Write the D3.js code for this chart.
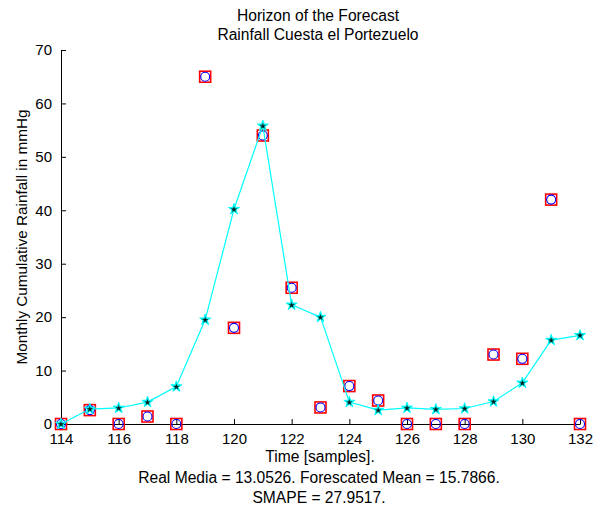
<!DOCTYPE html>
<html>
<head>
<meta charset="utf-8">
<script src="https://cdn.jsdelivr.net/npm/d3@7"></script>
<style>
  html, body { margin: 0; padding: 0; background: #fff; }
  svg { display: block; font-family: "Liberation Sans", Arial, sans-serif; }
</style>
</head>
<body>
<svg id="chart" width="604" height="507"></svg>
<script>
// Time samples on the forecast horizon
const samples = [114, 115, 116, 117, 118, 119, 120, 121, 122, 123, 124, 125, 126, 127, 128, 129, 130, 131, 132];
// Observed monthly rainfall
const observed = [0, 2.6, 0, 1.4, 0, 65, 18, 54, 25.5, 3.1, 7.1, 4.4, 0, 0, 0, 13, 12.2, 42, 0];
// Forecasted monthly rainfall
const forecast = [0, 2.8, 3.0, 4.1, 7.0, 19.5, 40.2, 55.8, 22.3, 20.0, 4.1, 2.6, 3.0, 2.75, 2.9, 4.2, 7.7, 15.7, 16.6];

const xTicks = [114, 116, 118, 120, 122, 124, 126, 128, 130, 132];
const yTicks = [0, 10, 20, 30, 40, 50, 60, 70];

const titleLines = ["Horizon of the Forecast", "Rainfall Cuesta el Portezuelo"];
const xLabel = "Time [samples].";
const yLabel = "Monthly Cumulative Rainfall in mmHg";
const footLines = ["Real Media = 13.0526. Forescated Mean = 15.7866.", "SMAPE = 27.9517."];

const svg = d3.select("#chart");
const plot = { left: 61, right: 580, top: 50, bottom: 424 };

const x = d3.scaleLinear().domain([114, 132]).range([plot.left, plot.right]);
const y = d3.scaleLinear().domain([0, 70]).range([plot.bottom, plot.top]);

// Axes (ticks point inward)
const xAxis = d3.axisBottom(x).tickValues(xTicks).tickSizeInner(-5).tickSizeOuter(0).tickPadding(9).tickFormat(d3.format("d"));
const yAxis = d3.axisLeft(y).tickValues(yTicks).tickSizeInner(-5).tickSizeOuter(0).tickPadding(9).tickFormat(d3.format("d"));

const gx = svg.append("g").attr("transform", `translate(0,${plot.bottom})`).call(xAxis);
const gy = svg.append("g").attr("transform", `translate(${plot.left},0)`).call(yAxis);
[gx, gy].forEach(g => {
  g.select(".domain").attr("stroke", "#000").attr("stroke-width", 1);
  g.selectAll(".tick line").attr("stroke", "#000");
  g.selectAll(".tick text").attr("fill", "#000").style("font-size", "15px").style("font-family", "Liberation Sans, Arial, sans-serif");
});

// Titles and labels
const labelSize = 15.6;
const title = svg.append("text").attr("text-anchor", "middle").attr("font-size", labelSize).attr("fill", "#000");
titleLines.forEach((t, i) => title.append("tspan").attr("x", 318).attr("y", 21 + i * 19).text(t));

svg.append("text").attr("x", 320).attr("y", 462).attr("text-anchor", "middle").attr("font-size", labelSize).text(xLabel);
footLines.forEach((t, i) =>
  svg.append("text").attr("x", 319).attr("y", 483 + i * 20).attr("text-anchor", "middle").attr("font-size", labelSize).text(t));

svg.append("text")
  .attr("transform", `translate(27,${(plot.top + plot.bottom) / 2}) rotate(-90)`)
  .attr("text-anchor", "middle").attr("font-size", 15.3).text(yLabel);

// Observed values: red squares with blue circles
const obs = svg.append("g");
obs.selectAll("rect").data(samples).join("rect")
  .attr("x", (d, i) => x(d) - 5.5).attr("y", (d, i) => y(observed[i]) - 5.5)
  .attr("width", 11).attr("height", 11)
  .attr("fill", "none").attr("stroke", "#ff0000").attr("stroke-width", 1.6);
obs.selectAll("circle").data(samples).join("circle")
  .attr("cx", d => x(d)).attr("cy", (d, i) => y(observed[i]))
  .attr("r", 4.5).attr("fill", "none").attr("stroke", "#0000ff").attr("stroke-width", 1.1);

// Forecast: cyan line with star markers
const line = d3.line().x(d => x(d[0])).y(d => y(d[1]));
svg.append("path").datum(samples.map((s, i) => [s, forecast[i]]))
  .attr("d", line).attr("fill", "none").attr("stroke", "#00ffff").attr("stroke-width", 1.2);

const starOuter = d3.symbol().type(d3.symbolStar).size(38);
const starInner = d3.symbol().type(d3.symbolStar).size(12);
const stars = svg.append("g");
stars.selectAll("path.outer").data(samples).join("path").attr("class", "outer")
  .attr("transform", (d, i) => `translate(${x(d)},${y(forecast[i])})`)
  .attr("d", starOuter).attr("fill", "#00cccc").attr("stroke", "#00ffff").attr("stroke-width", 1);
stars.selectAll("path.inner").data(samples).join("path").attr("class", "inner")
  .attr("transform", (d, i) => `translate(${x(d)},${y(forecast[i]) + 0.3})`)
  .attr("d", starInner).attr("fill", "#002222");
</script>
</body>
</html>
